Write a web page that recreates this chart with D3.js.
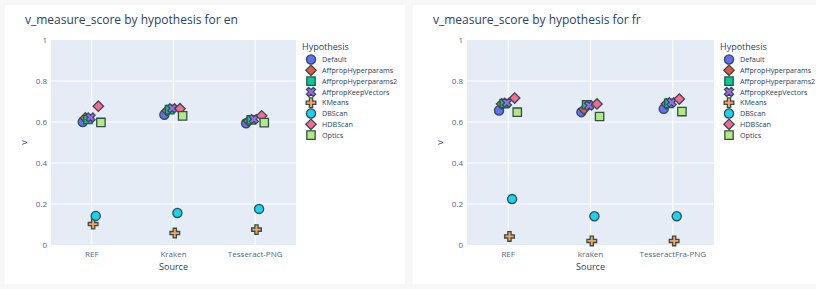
<!DOCTYPE html>
<html>
<head>
<meta charset="utf-8">
<script src="https://cdn.jsdelivr.net/npm/d3@7"></script>
<style>
  body { margin: 0; background: #f7f7f7; font-family: "Open Sans", sans-serif; }
  svg { display: block; }
</style>
</head>
<body>
<svg id="main" width="816" height="289"></svg>
<script>
// hypotheses in legend order, with their plotly default colours and symbols
const hypotheses = ["Default", "AffpropHyperparams", "AffpropHyperparams2",
  "AffpropKeepVectors", "KMeans", "DBScan", "HDBScan", "Optics"];
const colors = ["#636efa", "#EF553B", "#00cc96", "#ab63fa", "#FFA15A",
  "#19d3f3", "#FF6692", "#B6E880"];
const symbols = ["circle", "diamond", "square", "x", "cross", "circle",
  "diamond", "square"];

const sourcesEn = ["REF", "Kraken", "Tesseract-PNG"];
const sourcesFr = ["REF", "kraken", "TesseractFra-PNG"];
const yTicks = [0, 0.2, 0.4, 0.6, 0.8, 1];

// v_measure_score per hypothesis, one value per source
const scoresEn = {
  "Default":             [0.600, 0.635, 0.594],
  "AffpropHyperparams":  [0.620, 0.655, 0.605],
  "AffpropHyperparams2": [0.612, 0.660, 0.610],
  "AffpropKeepVectors":  [0.622, 0.667, 0.614],
  "KMeans":              [0.102, 0.058, 0.075],
  "DBScan":              [0.142, 0.156, 0.176],
  "HDBScan":             [0.677, 0.665, 0.630],
  "Optics":              [0.598, 0.630, 0.597]
};
const scoresFr = {
  "Default":             [0.656, 0.648, 0.664],
  "AffpropHyperparams":  [0.688, 0.662, 0.688],
  "AffpropHyperparams2": [0.690, 0.684, 0.691],
  "AffpropKeepVectors":  [0.694, 0.680, 0.696],
  "KMeans":              [0.042, 0.020, 0.020],
  "DBScan":              [0.224, 0.140, 0.140],
  "HDBScan":             [0.717, 0.688, 0.712],
  "Optics":              [0.648, 0.627, 0.651]
};

const svg = d3.select("#main");

/** returns a d3 path for a plotly-like marker symbol */
function markerPath(sym) {
  if (sym == "circle") return d3.symbol(d3.symbolCircle, 66)();
  if (sym == "square") return d3.symbol(d3.symbolSquare, 70)();
  if (sym == "diamond") return d3.symbol(d3.symbolSquare, 54)();
  return d3.symbol(d3.symbolCross, 52)();
}
function markerRotate(sym) {
  return (sym == "diamond" || sym == "x") ? 45 : 0;
}

function panel(opts) {
  const g = svg.append("g");
  g.append("rect")
    .attr("x", opts.cardX).attr("y", 5)
    .attr("width", opts.cardW).attr("height", 279)
    .attr("fill", "#fff");

  g.append("text")
    .attr("x", opts.cardX + 20).attr("y", 24)
    .attr("font-size", 12).attr("fill", "#2a3f5f")
    .text(opts.title);

  const x = d3.scaleBand().domain(opts.sources)
    .range([opts.left, opts.right]);
  const y = d3.scaleLinear().domain([0, 1]).range([245, 40]);

  g.append("rect")
    .attr("x", opts.left).attr("y", y(1))
    .attr("width", opts.right - opts.left).attr("height", y(0) - y(1))
    .attr("fill", "#e5ecf6");

  // grid lines
  g.append("g").selectAll("line").data(yTicks.slice(1, -1)).join("line")
    .attr("x1", opts.left).attr("x2", opts.right)
    .attr("y1", (d) => y(d)).attr("y2", (d) => y(d))
    .attr("stroke", "#fff").attr("stroke-width", 1);
  g.append("g").selectAll("line").data(opts.sources).join("line")
    .attr("x1", (d) => x(d) + x.bandwidth() / 2)
    .attr("x2", (d) => x(d) + x.bandwidth() / 2)
    .attr("y1", y(1)).attr("y2", y(0))
    .attr("stroke", "#fff").attr("stroke-width", 1);

  const yAxis = g.append("g")
    .attr("transform", `translate(${opts.left},0)`)
    .call(d3.axisLeft(y).tickValues(yTicks).tickSize(0).tickPadding(4)
      .tickFormat(d3.format("~g")));
  yAxis.select(".domain").remove();
  yAxis.selectAll("text").attr("fill", "#506784").attr("font-size", 8)
    .attr("font-family", "Open Sans");

  const xAxis = g.append("g")
    .attr("transform", `translate(0,${y(0)})`)
    .call(d3.axisBottom(x).tickSize(0).tickPadding(6));
  xAxis.select(".domain").remove();
  xAxis.selectAll("text").attr("fill", "#506784").attr("font-size", 8)
    .attr("font-family", "Open Sans");

  g.append("text")
    .attr("x", (opts.left + opts.right) / 2).attr("y", 270)
    .attr("text-anchor", "middle")
    .attr("font-size", 9).attr("fill", "#2a3f5f")
    .text("Source");
  g.append("text")
    .attr("transform", `translate(${opts.left - 24},${y(0.5)}) rotate(-90)`)
    .attr("text-anchor", "middle")
    .attr("font-size", 9).attr("fill", "#2a3f5f")
    .text("v");

  // points, each hypothesis nudged sideways inside its category
  hypotheses.forEach((h, i) => {
    const dx = (i - 3.5) * 2.6;
    g.append("g").selectAll("path").data(opts.scores[h]).join("path")
      .attr("d", markerPath(symbols[i]))
      .attr("transform", (d, j) =>
        `translate(${x(opts.sources[j]) + x.bandwidth() / 2 + dx},${y(d)})` +
        ` rotate(${markerRotate(symbols[i])})`)
      .attr("fill", colors[i])
      .attr("stroke", "#2F4F4F").attr("stroke-width", 1.3);
  });

  // legend
  const lg = g.append("g")
    .attr("transform", `translate(${opts.right + 6},0)`);
  lg.append("text")
    .attr("x", 0).attr("y", 50)
    .attr("font-size", 9).attr("fill", "#2a3f5f")
    .text("Hypothesis");
  hypotheses.forEach((h, i) => {
    const yy = 59.5 + i * 10.8;
    lg.append("path")
      .attr("d", markerPath(symbols[i]))
      .attr("transform", `translate(9,${yy}) rotate(${markerRotate(symbols[i])})`)
      .attr("fill", colors[i])
      .attr("stroke", "#2F4F4F").attr("stroke-width", 1.3);
    lg.append("text")
      .attr("x", 20).attr("y", yy + 2.7)
      .attr("font-size", 7.2).attr("fill", "#2a3f5f")
      .text(h);
  });
}

panel({
  cardX: 5, cardW: 400, left: 51, right: 296,
  title: "v_measure_score by hypothesis for en",
  sources: sourcesEn, scores: scoresEn
});
panel({
  cardX: 413, cardW: 410, left: 467, right: 714,
  title: "v_measure_score by hypothesis for fr",
  sources: sourcesFr, scores: scoresFr
});
</script>
</body>
</html>
